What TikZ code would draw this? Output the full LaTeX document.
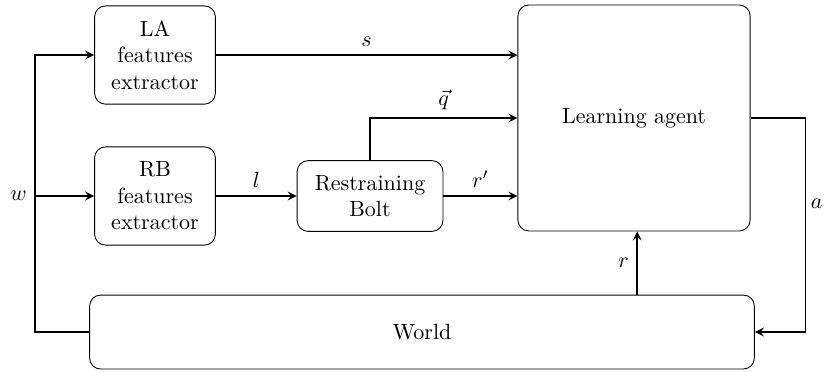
\documentclass[tikz,border=0pt]{standalone}
\usepackage{amsmath,amssymb}
\usetikzlibrary{arrows}

\begin{document}
\begin{tikzpicture}[>=stealth,
        block/.style={draw, rounded corners=5pt, align=center},
        link/.style={thick, ->}]
            \useasboundingbox (0,0) rectangle (13.163,-5.927);
            \node[block, minimum width=1.93cm, minimum height=1.57cm] (la) at (2.476,-0.879) {LA\\features\\extractor};
            \node[block, minimum width=1.93cm, minimum height=1.57cm] (rb) at (2.476,-3.131) {RB\\features\\extractor};
            \node[block, minimum width=2.33cm, minimum height=1.13cm] (bolt) at (5.911,-3.131) {Restraining\\Bolt};
            \node[block, minimum width=3.71cm, minimum height=3.61cm] (agent) at (10.128,-1.885) {Learning agent};
            \node[block, minimum width=10.62cm, minimum height=1.18cm] (world) at (6.741,-5.304) {World};
            \coordinate (wbus) at (0.559,-5.304);
            \draw[link] (la.east) -- node[above] {\(s\)} (la.east -| agent.west);
            \draw[link] (rb.east) -- node[above] {\(l\)} (bolt.west);
            \draw[link] (bolt.east) -- node[above] {\(r'\)} (bolt.east -| agent.west);
            \draw[link] (bolt.north) |- node[pos=0.75, above] {\(\vec{q}\)} (agent.west);
            \draw[link] (agent.east) -- ++(0.879,0) |- node[pos=0.2, right, inner sep=2pt] {\(a\)} (world.east);
            \draw[link] ([xshift=0.05cm]world.north -| agent.south) -- node[left] {\(r\)} ([xshift=0.05cm]agent.south);
            \draw[link] (world.west) -- (wbus) |- (la.west);
            \draw[link] (wbus |- rb.west) node[left] {\(w\)} -- (rb.west);
        \end{tikzpicture}
\end{document}
